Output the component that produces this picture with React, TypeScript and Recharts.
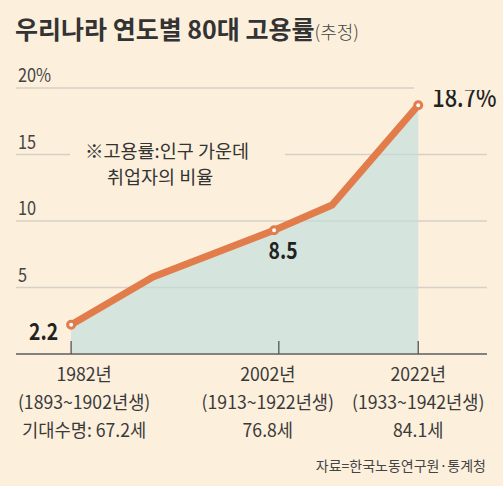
import React from 'react';
import {
  ComposedChart,
  Area,
  Line,
  XAxis,
  YAxis,
  CartesianGrid,
  LabelList,
} from 'recharts';

if (typeof document !== 'undefined') document.body.style.margin = '0';

// position along the x axis (0-100); the points are not evenly spaced
const xPos = [11.7, 29.1, 54.8, 67.1, 85.4];
const rates = [2.2, 5.8, 9.3, 11.2, 18.7];
const marked = [true, false, true, false, true];
const valueLabels = ['2.2', '', '8.5', '', '18.7%'];
const labelPlace = ['left', '', 'below', '', 'right'];

const tickPos = [11.7, 55.8, 85.4];
const years = ['1982년', '2002년', '2022년'];
const cohorts = ['(1893~1902년생)', '(1913~1922년생)', '(1933~1942년생)'];
const lifeExp = ['기대수명: 67.2세', '76.8세', '84.1세'];
const yTicks = [5, 10, 15, 20];

const data = xPos.map((pos, i) => ({
  pos,
  value: rates[i],
  mark: marked[i],
  label: valueLabels[i],
}));

const BG = '#fcefdc';
const ORANGE = '#e27c4a';
const TEXT = '#333333';
const FONT = "'Noto Sans CJK KR', 'Noto Sans', sans-serif";

// the source uses a condensed face; squeeze the text horizontally
const Narrow = ({ x, y, anchor = 'start', size, weight = 400, fill = '#222', squeeze = 0.84, children }: any) => (
  <text
    transform={`translate(${x},${y}) scale(${squeeze},1)`}
    textAnchor={anchor}
    fontSize={size}
    fontWeight={weight}
    fill={fill}
    fontFamily={FONT}
  >
    {children}
  </text>
);

const YTick = (props: any) => {
  const { y, payload } = props;
  const v = payload.value;
  return (
    <Narrow x={18} y={y - 6} size={19} weight={400} fill="#444" squeeze={0.86}>
      {v === 20 ? '20%' : String(v)}
    </Narrow>
  );
};

const textShift = [13, -11, 0];

const XTick = (props: any) => {
  const { x, y, index } = props;
  const cx = x + textShift[index];
  return (
    <g>
      <line x1={x} x2={x} y1={y} y2={y - 13} stroke="#555" strokeWidth={1.3} />
      <Narrow x={cx} y={y + 27} anchor="middle" size={18} weight={400} fill="#3a3a3a" squeeze={0.98}>{years[index]}</Narrow>
      <Narrow x={cx} y={y + 55} anchor="middle" size={18} weight={400} fill="#3a3a3a" squeeze={0.98}>{cohorts[index]}</Narrow>
      <Narrow x={cx} y={y + 83} anchor="middle" size={18} weight={400} fill="#3a3a3a" squeeze={0.98}>{lifeExp[index]}</Narrow>
    </g>
  );
};

const Dot = (props: any) => {
  const { cx, cy, payload, index } = props;
  if (!payload.mark) return <g key={index} />;
  return (
    <circle key={index} cx={cx} cy={cy} r={3.5} fill="#fff" stroke={ORANGE} strokeWidth={3} />
  );
};

const ValueLabel = (props: any) => {
  const { x, y, value, index } = props;
  if (!value) return null;
  const place = labelPlace[index];
  if (place === 'left') {
    return <Narrow x={x - 13} y={y + 15} anchor="end" size={23} weight={700}>{value}</Narrow>;
  }
  if (place === 'below') {
    return <Narrow x={x + 9} y={y + 29} anchor="middle" size={23} weight={700}>{value}</Narrow>;
  }
  return <Narrow x={x + 14} y={y + 2} anchor="start" size={26} weight={500}>{value}</Narrow>;
};

export default function App() {
  return (
    <div style={{ position: 'relative', width: 503, height: 486, background: BG, fontFamily: FONT, overflow: 'hidden' }}>
      <ComposedChart
        width={503}
        height={486}
        data={data}
        margin={{ top: 88, right: 16, bottom: 32, left: 0 }}
      >
        <CartesianGrid horizontal vertical={false} stroke="#d6d0c6" strokeWidth={1.3} />
        <XAxis
          type="number"
          dataKey="pos"
          domain={[0, 100]}
          ticks={tickPos}
          height={100}
          tickSize={0}
          tickMargin={0}
          tickLine={false}
          axisLine={{ stroke: '#666', strokeWidth: 1.5 }}
          tick={<XTick />}
          interval={0}
        />
        <YAxis
          type="number"
          domain={[0, 20]}
          ticks={yTicks}
          width={16}
          axisLine={false}
          tickLine={false}
          tick={<YTick />}
          interval={0}
        />
        <Area
          type="linear"
          dataKey="value"
          stroke="none"
          fill="#bedddc"
          fillOpacity={0.63}
          isAnimationActive={false}
        />
        <Line
          type="linear"
          dataKey="value"
          stroke={ORANGE}
          strokeWidth={7}
          dot={<Dot />}
          activeDot={false}
          isAnimationActive={false}
        >
          <LabelList dataKey="label" content={<ValueLabel />} />
        </Line>
      </ComposedChart>

      <div style={{ position: 'absolute', left: 15, top: 10, color: TEXT, whiteSpace: 'nowrap' }}>
        <span style={{ fontSize: 25, fontWeight: 700 }}>우리나라 연도별 80대 고용률</span>
        <span style={{ fontSize: 18, fontWeight: 300, color: '#444' }}>(추정)</span>
      </div>

      <div style={{ position: 'absolute', left: 414, top: 85, width: 90, height: 5, background: BG }} />

      <div
        style={{
          position: 'absolute',
          left: 70,
          top: 137,
          width: 200,
          paddingLeft: 15,
          background: BG,
          color: TEXT,
          fontSize: 18.5,
          lineHeight: '26px',
          whiteSpace: 'nowrap',
        }}
      >
        <div>※고용률:인구 가운데</div>
        <div style={{ paddingLeft: 22 }}>취업자의 비율</div>
      </div>

      <div style={{ position: 'absolute', right: 17, top: 455, fontSize: 14, color: '#444', whiteSpace: 'nowrap' }}>
        자료=한국노동연구원·통계청
      </div>
    </div>
  );
}
